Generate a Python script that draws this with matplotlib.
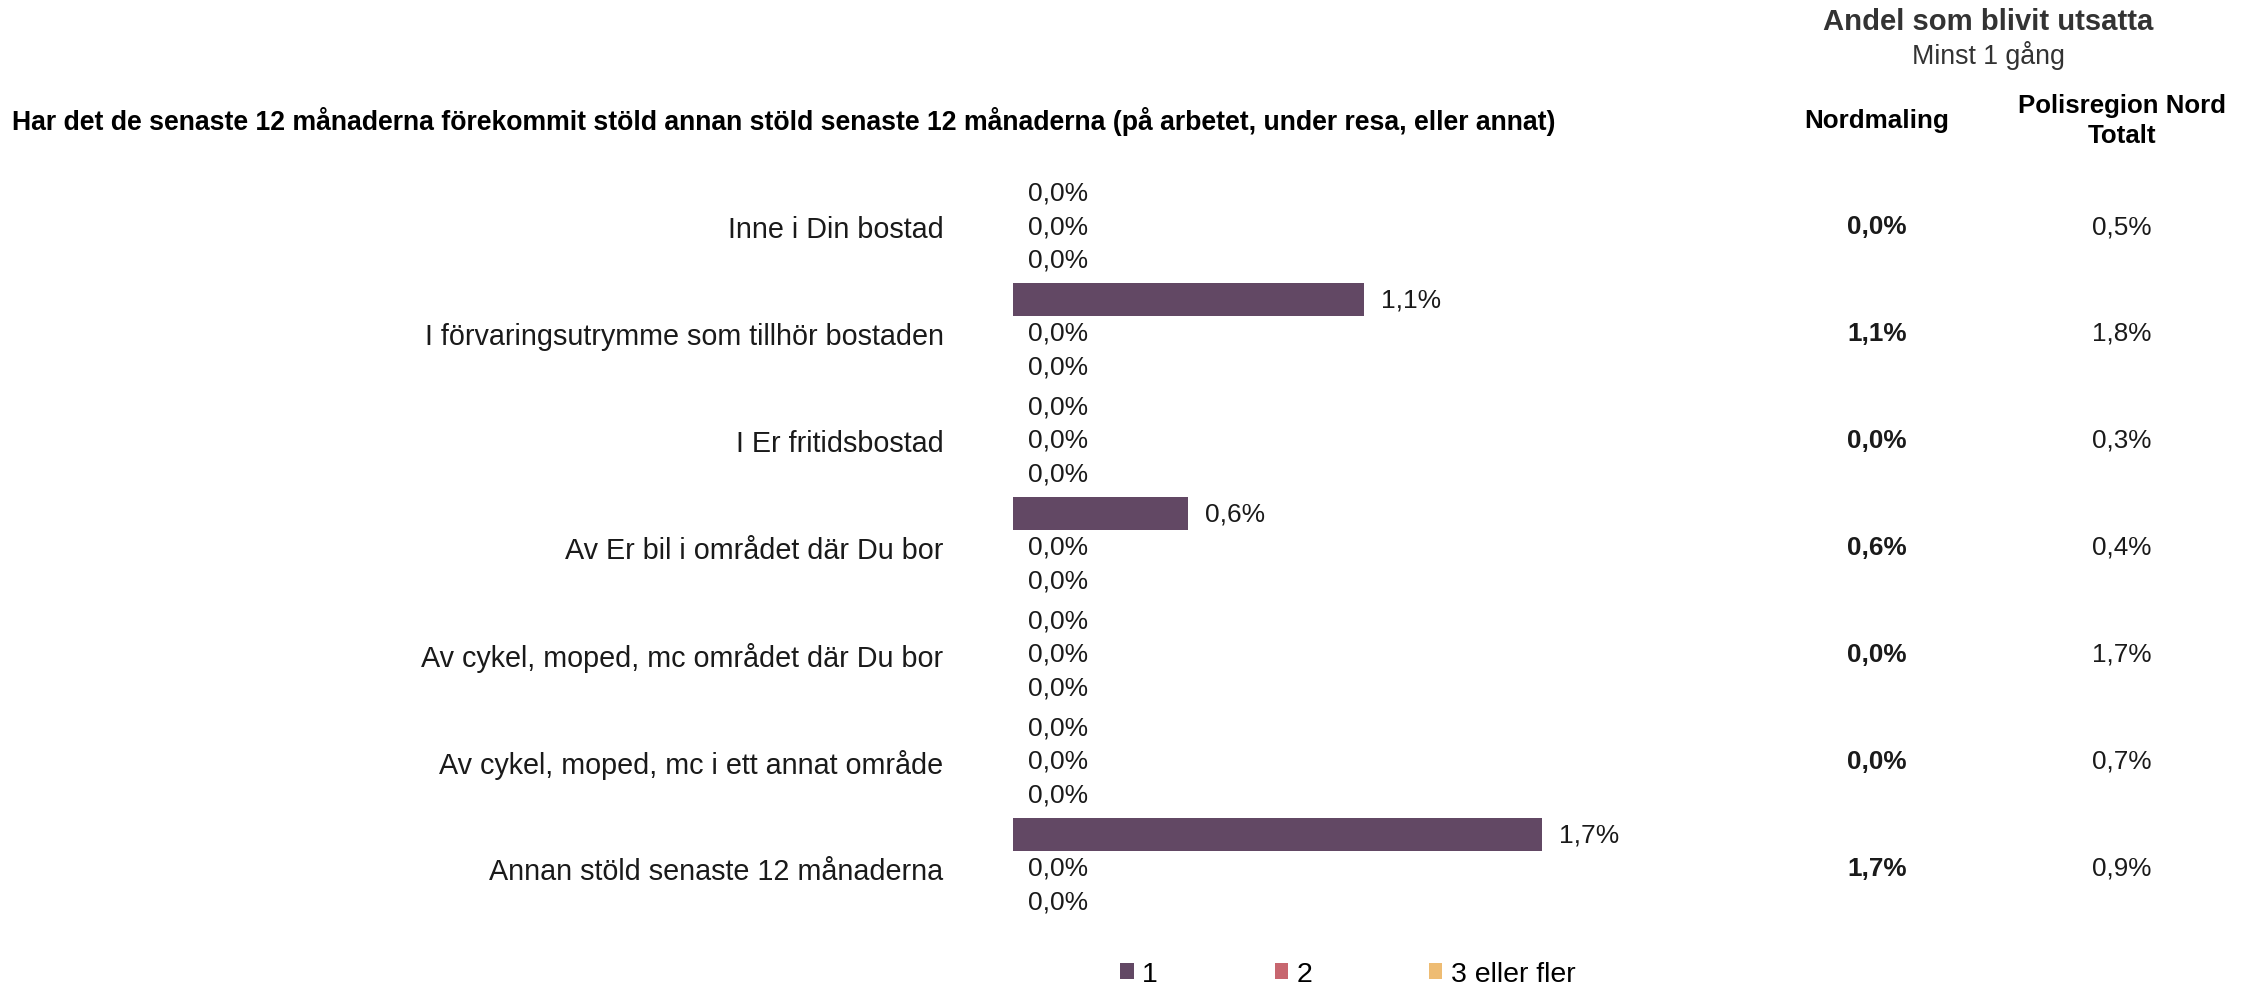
import matplotlib
matplotlib.use("Agg")
import matplotlib.pyplot as plt
from matplotlib.patches import Patch
from matplotlib.transforms import blended_transform_factory

plt.rcParams['font.family'] = ['Liberation Sans', 'DejaVu Sans']

# data
categories = ["Inne i Din bostad",
              "I förvaringsutrymme som tillhör bostaden",
              "I Er fritidsbostad",
              "Av Er bil i området där Du bor",
              "Av cykel, moped, mc området där Du bor",
              "Av cykel, moped, mc i ett annat område",
              "Annan stöld senaste 12 månaderna"]
series_names = ["1", "2", "3 eller fler"]
once = [0.0, 1.12, 0.0, 0.56, 0.0, 0.0, 1.69]
twice = [0.0, 0.0, 0.0, 0.0, 0.0, 0.0, 0.0]
three_plus = [0.0, 0.0, 0.0, 0.0, 0.0, 0.0, 0.0]
region_total = [0.5, 1.8, 0.3, 0.4, 1.7, 0.7, 0.9]
colors = ["#624864", "#C7666F", "#EEBC73"]

title = ("Har det de senaste 12 månaderna förekommit stöld annan stöld senaste 12 "
         "månaderna (på arbetet, under resa, eller annat)")

W, H = 2257, 987
fig = plt.figure(figsize=(W / 100, H / 100), dpi=100)


def fx(px):
    return px / W


def fy(py):
    return 1 - py / H


px_per_pct = 313
xmax = 2.2
ax_left, ax_top, ax_bottom = 1013, 173.5, 922.5
ax = fig.add_axes([fx(ax_left), fy(ax_bottom), xmax * px_per_pct / W, (ax_bottom - ax_top) / H])

def fmt(v):
    return f"{v:.1f}".replace(".", ",") + "%"

offsets = [-0.31, 0.0, 0.31]
ypos = list(range(len(categories)))
for k, vals in enumerate([once, twice, three_plus]):
    ys = [y + offsets[k] for y in ypos]
    bars = ax.barh(ys, vals, height=0.31, color=colors[k], label=series_names[k])
    for b, v in zip(bars, vals):
        ax.annotate(fmt(v), (v, b.get_y() + b.get_height() / 2),
                    xytext=(15 if v == 0 else 17, 0), textcoords="offset pixels",
                    ha="left", va="center", fontsize=19, color="#1a1a1a")

ax.set_xlim(0, xmax)
ax.set_ylim(len(categories) - 0.5, -0.5)
ax.set_yticks(ypos)
ax.set_yticklabels(categories, fontsize=20.7, color="#1a1a1a")
ax.tick_params(axis="y", length=0, pad=50)
ax.set_xticks([])
for s in ax.spines.values():
    s.set_visible(False)

# right-hand columns
tr = blended_transform_factory(fig.transFigure, ax.transData)
nord = [a + b + c for a, b, c in zip(once, twice, three_plus)]
for i in ypos:
    ax.text(fx(1877), i, fmt(nord[i]), transform=tr, ha="center", va="center",
            fontsize=18.8, fontweight="bold", color="#1a1a1a")
    ax.text(fx(2122), i, fmt(region_total[i]), transform=tr, ha="center", va="center",
            fontsize=18.8, color="#1a1a1a")

fig.text(fx(12), fy(121), title, ha="left", va="center", fontsize=19.2, fontweight="bold")
fig.text(fx(1988), fy(22), "Andel som blivit utsatta", ha="center", va="center",
         fontsize=21.1, fontweight="bold", color="#333333")
fig.text(fx(1988), fy(55), "Minst 1 gång", ha="center", va="center",
         fontsize=19.3, color="#333333")
fig.text(fx(1877), fy(121), "Nordmaling", ha="center", va="center",
         fontsize=18.7, fontweight="bold")
fig.text(fx(2122), fy(121), "Polisregion Nord\nTotalt", ha="center", va="center",
         fontsize=18.6, fontweight="bold", linespacing=1.3)

handles = [Patch(facecolor=c, edgecolor="none", label=n) for c, n in zip(colors, series_names)]
fig.legend(handles=handles, loc="center left", bbox_to_anchor=(fx(1106), fy(975)),
           ncol=3, frameon=False, fontsize=20.5, borderpad=0, handlelength=0.47,
           handleheight=0.47, handletextpad=0.3, columnspacing=4.1)

fig.savefig("out.png", dpi=100)
